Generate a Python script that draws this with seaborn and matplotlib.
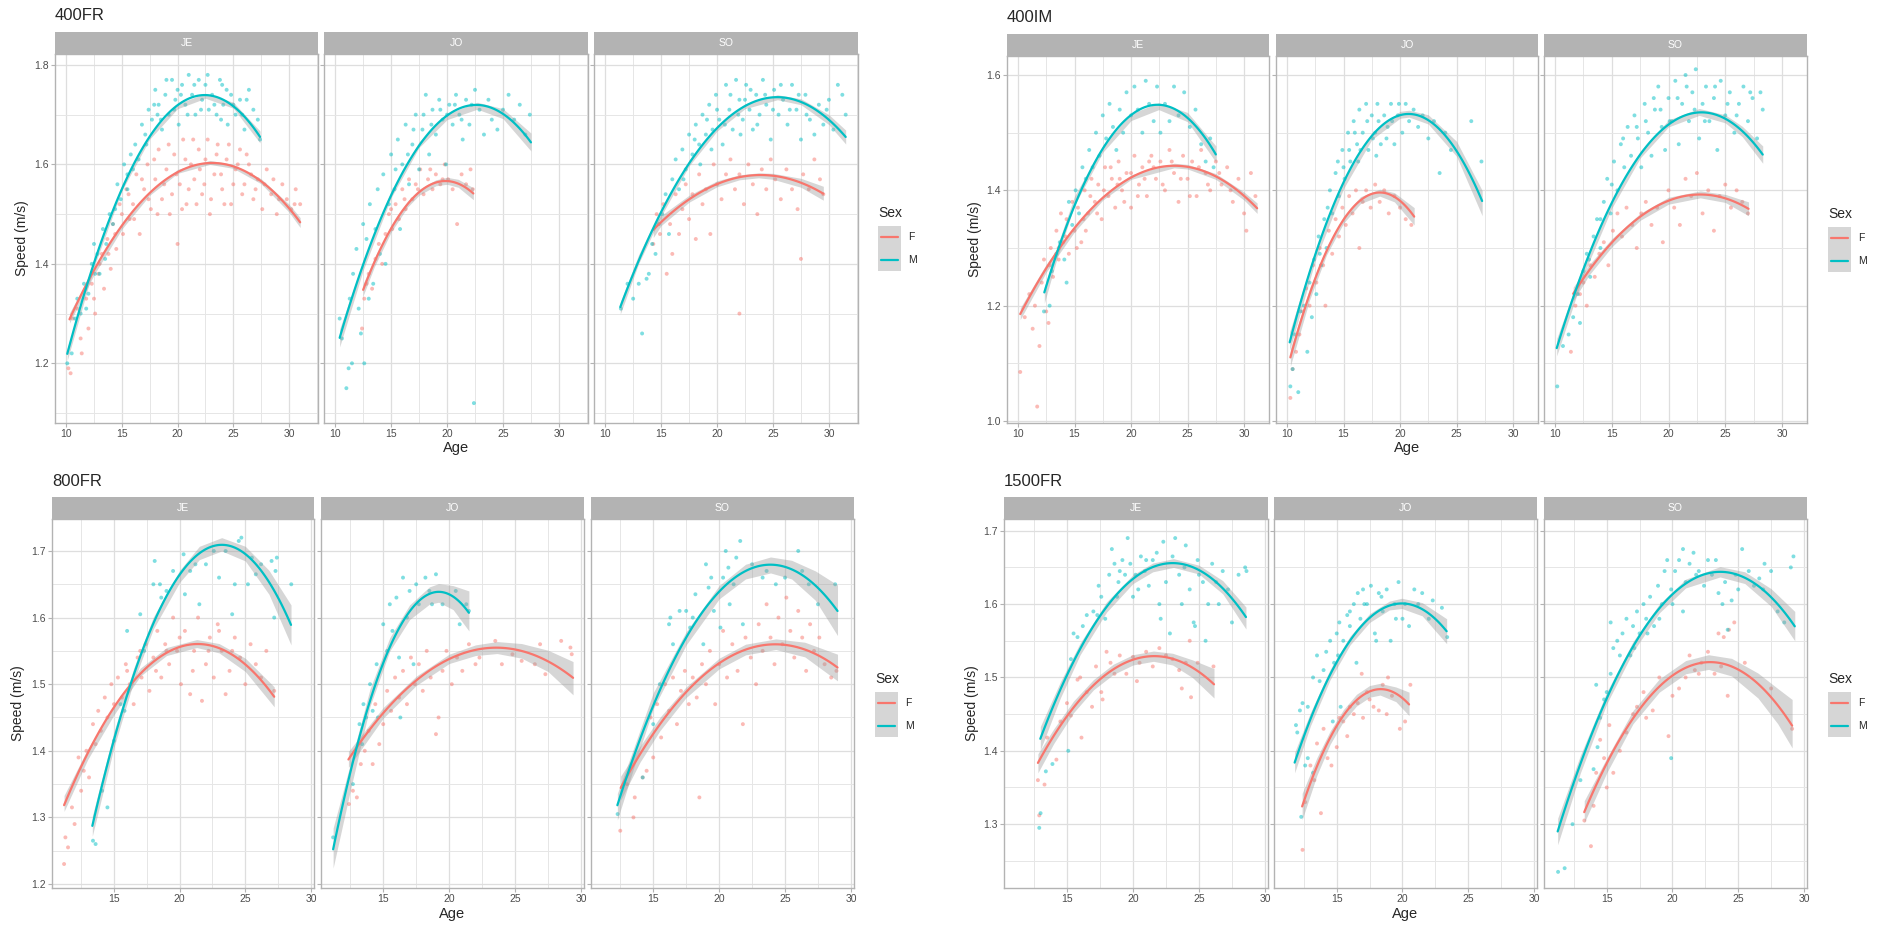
import pandas as pd
import matplotlib
matplotlib.use("Agg")
import matplotlib.pyplot as plt
import seaborn as sns
from matplotlib.patches import Rectangle
from matplotlib.lines import Line2D
from matplotlib.ticker import FormatStrFormatter

sns.set_theme(style="white")
plt.rcParams["font.family"] = ["Liberation Sans", "DejaVu Sans"]

W, H = 1883, 925

EVENTS = ["400FR", "400IM", "800FR", "1500FR"]
FACETS = ["JE", "JO", "SO"]
SEXES = ["F", "M"]
PALETTE = {"F": "#F8766D", "M": "#00BFC4"}
PREFIX = {"400FR": "fr400", "400IM": "im400", "800FR": "fr800", "1500FR": "fr1500"}

# ---- swimmer results (Age, Speed m/s) ----
fr400_je_f = [(10.2,1.19),(10.4,1.18),(10.6,1.29),(11.0,1.31),(11.3,1.25),(11.4,1.22),(11.8,1.33),(12.0,1.27),
              (12.3,1.36),(12.6,1.30),(12.9,1.38),(13.2,1.42),(13.4,1.35),(13.7,1.45),(14.0,1.39),(14.2,1.48),
              (14.5,1.43),(14.8,1.52),(15.1,1.46),(15.4,1.55),(15.7,1.49),(16.0,1.52),(16.3,1.58),(16.6,1.46),
              (17.0,1.55),(17.3,1.60),(17.6,1.51),(18.0,1.57),(18.3,1.63),(18.6,1.53),(19.0,1.59),(19.3,1.50),
              (19.7,1.62),(20.0,1.44),(20.2,1.56),(20.5,1.65),(20.8,1.52),(21.2,1.60),(21.5,1.57),(21.9,1.63),
              (22.2,1.54),(22.5,1.61),(22.9,1.50),(23.3,1.58),(23.6,1.64),(24.0,1.55),(24.4,1.61),(24.8,1.52),
              (25.2,1.59),(25.6,1.63),(26.0,1.56),(26.4,1.60),(26.8,1.53),(27.2,1.57),(27.6,1.51),(28.0,1.59),
              (28.4,1.54),(28.9,1.50),(29.4,1.56),(29.8,1.53),(30.2,1.51),(30.6,1.55),(31.0,1.52),
              (15.6,1.54),(16.1,1.49),(16.8,1.57),(17.4,1.53),(17.9,1.61),(18.2,1.50),(18.8,1.56),(19.2,1.64),
              (19.5,1.54),(19.9,1.58),(20.4,1.51),(20.7,1.61),(21.0,1.55),(21.4,1.65),(21.7,1.52),(22.0,1.59),
              (22.4,1.56),(22.7,1.65),(23.0,1.53),(23.5,1.62),(23.9,1.58),(24.2,1.52),(24.6,1.64),(25.0,1.56),
              (25.4,1.60),(25.8,1.54),(26.2,1.62),(26.6,1.58),(27.0,1.55),(27.8,1.56),(28.6,1.57),(29.1,1.53),
              (30.5,1.52),(13.8,1.42),(14.4,1.46),(15.0,1.50),(12.5,1.33),(13.0,1.40)]
fr400_je_m = [(10.1,1.20),(10.5,1.22),(10.8,1.29),(11.0,1.33),(11.3,1.30),(11.6,1.36),(12.0,1.34),(12.3,1.40),
              (12.5,1.44),(12.8,1.42),(13.0,1.38),(13.3,1.47),(13.6,1.44),(13.9,1.50),(14.2,1.48),(14.6,1.56),
              (14.9,1.53),(15.2,1.60),(15.5,1.58),(15.8,1.62),(16.2,1.64),(16.5,1.61),(16.8,1.68),(17.1,1.66),
              (17.4,1.71),(17.7,1.69),(18.0,1.75),(18.3,1.72),(18.6,1.67),(18.9,1.74),(19.2,1.70),(19.5,1.77),
              (19.8,1.73),(20.1,1.68),(20.4,1.76),(20.7,1.72),(21.0,1.78),(21.3,1.74),(21.6,1.70),(21.9,1.77),
              (22.2,1.73),(22.5,1.76),(22.8,1.71),(23.1,1.74),(23.5,1.70),(23.8,1.77),(24.1,1.72),(24.5,1.68),
              (24.8,1.74),(25.2,1.70),(25.6,1.73),(26.0,1.67),(26.4,1.75),(26.8,1.71),(27.2,1.69),(27.4,1.65),
              (17.2,1.64),(17.9,1.72),(18.5,1.69),(19.0,1.77),(19.7,1.71),(20.3,1.74),(20.9,1.70),(21.5,1.76),
              (22.1,1.71),(22.7,1.78),(23.3,1.72),(23.9,1.69),(24.4,1.75),(25.0,1.72),(25.8,1.70),(26.2,1.73),
              (16.0,1.59),(15.5,1.55),(14.4,1.51),(13.5,1.41),(12.6,1.38),(11.8,1.31),(18.2,1.70),(20.0,1.75),
              (24.0,1.76)]
fr400_jo_f = [(12.4,1.27),(12.6,1.33),(12.8,1.36),(13.0,1.38),(13.3,1.35),(13.6,1.41),(13.9,1.44),(14.2,1.40),
              (14.5,1.46),(14.8,1.50),(15.1,1.47),(15.4,1.52),(15.7,1.49),(16.0,1.55),(16.3,1.51),(16.6,1.57),
              (16.9,1.53),(17.2,1.56),(17.6,1.59),(17.9,1.54),(18.3,1.57),(18.7,1.55),(19.0,1.58),(19.4,1.56),
              (19.8,1.60),(20.1,1.57),(20.5,1.55),(20.9,1.48),(21.3,1.58),(21.7,1.56),(22.1,1.59),(22.3,1.55),
              (15.0,1.51),(16.2,1.53),(17.4,1.55),(18.5,1.59),(19.6,1.57)]
fr400_jo_m = [(10.4,1.29),(10.6,1.25),(11.0,1.15),(11.2,1.19),(11.3,1.33),(11.5,1.20),(11.6,1.38),(11.9,1.43),
              (12.1,1.31),(12.3,1.26),(12.5,1.48),(12.6,1.20),(12.8,1.45),(13.0,1.33),(13.1,1.52),(13.4,1.36),
              (13.6,1.47),(13.8,1.55),(14.0,1.42),(14.3,1.58),(14.5,1.40),(14.8,1.52),(15.0,1.62),(15.3,1.55),
              (15.6,1.65),(15.8,1.47),(16.0,1.60),(16.3,1.68),(16.6,1.56),(16.9,1.64),(17.2,1.70),(17.5,1.59),
              (17.8,1.67),(18.1,1.74),(18.4,1.62),(18.7,1.71),(19.0,1.66),(19.3,1.73),(19.6,1.69),(19.9,1.60),
              (20.2,1.72),(20.5,1.68),(20.8,1.74),(21.1,1.70),(21.4,1.65),(21.7,1.73),(22.0,1.68),(22.4,1.12),
              (22.5,1.75),(22.9,1.71),(23.3,1.66),(23.7,1.73),(24.0,1.69),(24.5,1.67),(25.0,1.71),(25.5,1.74),
              (26.0,1.69),(26.5,1.72),(27.0,1.66),(27.4,1.70),
              (17.0,1.67),(17.9,1.70),(18.6,1.68),(19.4,1.71),(20.0,1.70),(20.7,1.72),(21.3,1.69),(22.2,1.72),
              (16.5,1.62),(15.4,1.59)]
fr400_so_f = [(14.3,1.44),(14.6,1.50),(14.9,1.46),(15.2,1.52),(15.5,1.38),(15.8,1.48),(16.0,1.42),(16.3,1.54),
              (16.6,1.46),(16.9,1.51),(17.2,1.56),(17.5,1.49),(17.8,1.54),(18.1,1.45),(18.4,1.58),(18.7,1.52),
              (19.0,1.55),(19.4,1.46),(19.7,1.60),(20.0,1.56),(20.4,1.53),(20.8,1.58),(21.2,1.61),(21.6,1.55),
              (22.0,1.30),(22.0,1.58),(22.4,1.52),(22.8,1.60),(23.2,1.56),(23.6,1.50),(24.0,1.59),(24.4,1.55),
              (24.8,1.61),(25.2,1.57),(25.7,1.53),(26.2,1.59),(26.7,1.55),(27.2,1.51),(27.5,1.41),(27.7,1.58),
              (28.2,1.55),(28.7,1.61),(29.2,1.57),(29.5,1.54)]
fr400_so_m = [(11.4,1.31),(12.0,1.36),(12.5,1.33),(13.0,1.36),(13.3,1.26),(13.7,1.37),(13.9,1.38),(14.2,1.44),
              (14.5,1.42),(14.8,1.48),(15.1,1.50),(15.4,1.54),(15.7,1.46),(16.0,1.57),(16.3,1.61),(16.6,1.55),
              (16.9,1.63),(17.2,1.59),(17.5,1.66),(17.8,1.62),(18.1,1.68),(18.4,1.64),(18.7,1.70),(19.0,1.66),
              (19.3,1.72),(19.6,1.67),(19.9,1.74),(20.2,1.69),(20.5,1.64),(20.8,1.76),(21.1,1.71),(21.4,1.67),
              (21.7,1.77),(22.0,1.73),(22.3,1.69),(22.6,1.76),(22.9,1.71),(23.2,1.67),(23.5,1.74),(23.8,1.70),
              (24.1,1.77),(24.4,1.72),(24.8,1.65),(25.1,1.75),(25.5,1.70),(25.9,1.73),(26.3,1.68),(26.7,1.76),
              (27.1,1.71),(27.5,1.65),(27.9,1.74),(28.3,1.69),(28.7,1.66),(29.1,1.72),(29.5,1.68),(30.0,1.73),
              (30.4,1.67),(30.8,1.76),(31.2,1.74),(31.5,1.70),
              (17.0,1.57),(18.0,1.65),(19.1,1.69),(20.0,1.71),(20.7,1.68),(21.2,1.74),(21.9,1.70),(22.5,1.73),
              (23.0,1.75),(23.6,1.68),(24.3,1.74),(25.0,1.71),(25.7,1.76),(26.5,1.71),(27.3,1.74),(28.0,1.70),
              (29.8,1.71),(19.5,1.63),(18.5,1.60),(22.1,1.66)]

im400_je_f = [(10.2,1.085),(10.6,1.18),(11.0,1.22),(11.3,1.16),(11.5,1.20),(11.7,1.025),(11.9,1.13),(12.1,1.24),
              (12.3,1.28),(12.5,1.19),(12.7,1.17),(12.9,1.30),(13.1,1.25),(13.4,1.33),(13.6,1.28),(13.8,1.36),
              (14.0,1.31),(14.3,1.35),(14.5,1.29),(14.8,1.38),(15.0,1.33),(15.3,1.37),(15.6,1.31),(15.9,1.40),
              (16.2,1.36),(16.5,1.42),(16.8,1.38),(17.1,1.41),(17.4,1.35),(17.7,1.44),(18.0,1.39),(18.3,1.42),
              (18.6,1.37),(18.9,1.45),(19.2,1.40),(19.6,1.43),(20.0,1.37),(20.3,1.46),(20.7,1.41),(21.0,1.44),
              (21.4,1.39),(21.8,1.46),(22.2,1.42),(22.6,1.45),(23.0,1.40),(23.4,1.47),(23.8,1.43),(24.2,1.38),
              (24.6,1.46),(25.0,1.42),(25.4,1.45),(25.8,1.39),(26.2,1.47),(26.6,1.43),(27.0,1.40),(27.5,1.45),
              (28.0,1.41),(28.5,1.44),(29.0,1.38),(29.5,1.42),(30.0,1.36),(30.2,1.33),(30.6,1.43),(31.0,1.39),
              (15.2,1.30),(15.8,1.35),(16.4,1.39),(17.0,1.36),(17.6,1.40),(18.2,1.44),(18.8,1.41),(19.4,1.38),
              (20.0,1.43),(20.6,1.39),(21.2,1.42),(22.0,1.44),(22.8,1.41),(23.6,1.45),(24.4,1.42),(25.2,1.39),
              (26.0,1.44),(26.8,1.41),(27.8,1.43),(28.8,1.40),(14.2,1.32),(13.6,1.30),(12.8,1.27),(16.0,1.33),
              (19.0,1.42),(21.6,1.45)]
im400_je_m = [(12.3,1.19),(12.8,1.20),(13.0,1.26),(13.4,1.29),(13.7,1.31),(14.1,1.28),(14.3,1.24),(14.5,1.38),
              (14.8,1.34),(15.1,1.40),(15.4,1.36),(15.7,1.44),(16.0,1.42),(16.3,1.47),(16.6,1.44),(16.9,1.50),
              (17.2,1.46),(17.5,1.53),(17.8,1.49),(18.1,1.55),(18.4,1.51),(18.7,1.47),(19.0,1.54),(19.3,1.50),
              (19.6,1.57),(20.0,1.53),(20.3,1.58),(20.6,1.54),(21.0,1.50),(21.3,1.59),(21.6,1.55),(22.0,1.52),
              (22.3,1.58),(22.6,1.50),(23.0,1.55),(23.4,1.52),(23.8,1.58),(24.2,1.53),(24.7,1.57),(25.2,1.51),
              (25.7,1.54),(26.2,1.48),(26.6,1.45),(27.0,1.49),(27.3,1.44)]
im400_jo_f = [(10.3,1.04),(10.5,1.09),(10.8,1.12),(11.1,1.15),(11.4,1.19),(11.7,1.23),(12.0,1.20),(12.3,1.27),
              (12.6,1.24),(12.9,1.30),(13.2,1.27),(13.4,1.20),(13.7,1.33),(14.0,1.29),(14.3,1.35),(14.6,1.32),
              (14.9,1.37),(15.2,1.34),(15.5,1.39),(15.8,1.36),(16.1,1.40),(16.4,1.30),(16.7,1.38),(17.0,1.40),
              (17.4,1.37),(17.8,1.41),(18.2,1.38),(18.6,1.40),(19.0,1.36),(19.5,1.39),(20.0,1.37),(20.5,1.35),
              (21.0,1.34)]
im400_jo_m = [(10.3,1.06),(10.5,1.09),(10.7,1.15),(11.0,1.05),(11.2,1.19),(11.5,1.20),(11.8,1.12),(12.0,1.24),
              (12.2,1.18),(12.4,1.28),(12.6,1.22),(12.8,1.32),(13.0,1.27),(13.3,1.35),(13.5,1.30),(13.8,1.40),
              (14.0,1.36),(14.3,1.43),(14.6,1.39),(14.9,1.47),(15.1,1.42),(15.4,1.50),(15.6,1.45),(15.9,1.52),
              (16.2,1.48),(16.4,1.54),(16.7,1.50),(17.0,1.55),(17.2,1.47),(17.5,1.53),(17.8,1.50),(18.0,1.55),
              (18.3,1.48),(18.6,1.53),(18.9,1.51),(19.2,1.55),(19.5,1.48),(19.8,1.53),(20.2,1.50),(20.5,1.55),
              (20.8,1.52),(21.2,1.54),(21.6,1.51),(22.0,1.53),(22.5,1.49),(23.0,1.52),(23.5,1.43),(24.0,1.50),
              (24.5,1.47),(26.3,1.52),(27.2,1.45),
              (14.5,1.45),(15.0,1.44),(15.5,1.47),(16.0,1.50),(16.5,1.47),(17.1,1.52),(17.6,1.49),(18.1,1.52),
              (18.8,1.49),(19.3,1.52),(19.9,1.55),(13.6,1.37),(12.9,1.29),(16.3,1.45),(17.9,1.46)]
im400_so_f = [(11.4,1.12),(11.8,1.20),(12.2,1.22),(12.5,1.24),(12.8,1.20),(13.1,1.27),(13.5,1.25),(13.9,1.29),
              (14.3,1.31),(14.7,1.27),(15.1,1.33),(15.5,1.36),(15.9,1.32),(16.3,1.37),(16.8,1.34),(17.2,1.30),
              (17.6,1.36),(18.0,1.38),(18.5,1.34),(19.0,1.37),(19.5,1.31),(20.0,1.40),(20.5,1.37),(21.0,1.34),
              (21.5,1.42),(22.0,1.39),(22.5,1.43),(23.0,1.36),(23.5,1.40),(24.0,1.33),(24.5,1.39),(25.0,1.41),
              (25.5,1.37),(26.0,1.40),(26.5,1.38),(27.0,1.36)]
im400_so_m = [(10.2,1.06),(10.7,1.13),(11.2,1.15),(11.6,1.18),(12.0,1.22),(12.2,1.17),(12.5,1.26),(12.8,1.29),
              (13.1,1.25),(13.4,1.32),(13.7,1.35),(14.0,1.30),(14.3,1.38),(14.6,1.42),(14.9,1.36),(15.2,1.45),
              (15.5,1.40),(15.8,1.48),(16.1,1.44),(16.4,1.51),(16.7,1.46),(17.0,1.53),(17.3,1.49),(17.6,1.44),
              (17.9,1.55),(18.2,1.50),(18.5,1.46),(18.8,1.54),(19.1,1.58),(19.4,1.51),(19.7,1.47),(20.0,1.56),
              (20.3,1.52),(20.6,1.59),(20.9,1.48),(21.2,1.55),(21.5,1.60),(21.8,1.52),(22.1,1.57),(22.4,1.61),
              (22.7,1.49),(23.0,1.55),(23.3,1.58),(23.6,1.52),(24.0,1.56),(24.3,1.47),(24.6,1.59),(25.0,1.53),
              (25.4,1.57),(25.8,1.50),(26.2,1.55),(26.6,1.58),(27.0,1.52),(27.4,1.56),(27.8,1.49),(28.1,1.57),
              (28.3,1.54),
              (16.0,1.49),(17.2,1.51),(18.0,1.52),(18.7,1.56),(19.3,1.54),(20.1,1.52),(20.8,1.56),(21.6,1.58),
              (22.3,1.54),(23.2,1.52),(24.1,1.58),(25.2,1.55),(26.0,1.53),(27.2,1.57),(15.0,1.41),(14.0,1.35),
              (13.0,1.28)]

fr800_je_f = [(11.2,1.23),(11.3,1.27),(11.5,1.255),(11.8,1.315),(12.0,1.29),(12.3,1.39),(12.5,1.34),(12.7,1.37),
              (12.9,1.40),(13.1,1.36),(13.4,1.44),(13.6,1.41),(13.8,1.46),(14.0,1.43),(14.3,1.48),(14.5,1.45),
              (14.8,1.50),(15.0,1.47),(15.3,1.51),(15.6,1.48),(15.9,1.53),(16.2,1.50),(16.5,1.47),(16.8,1.54),
              (17.1,1.51),(17.4,1.56),(17.7,1.49),(18.0,1.54),(18.3,1.58),(18.6,1.51),(18.9,1.56),(19.2,1.53),
              (19.5,1.60),(19.8,1.55),(20.1,1.50),(20.4,1.58),(20.8,1.485),(21.1,1.55),(21.4,1.60),(21.7,1.475),
              (22.0,1.53),(22.3,1.57),(22.6,1.51),(22.9,1.59),(23.2,1.55),(23.5,1.485),(23.8,1.52),(24.2,1.57),
              (24.6,1.54),(25.0,1.50),(25.4,1.56),(25.8,1.53),(26.2,1.51),(26.6,1.55),(27.2,1.49),
              (16.0,1.52),(17.0,1.55),(18.2,1.52),(19.0,1.55),(20.0,1.57),(21.0,1.52),(22.2,1.55),(23.0,1.58),
              (24.0,1.55)]
fr800_je_m = [(13.4,1.265),(13.6,1.26),(14.1,1.34),(14.5,1.315),(15.0,1.415),(15.5,1.47),(15.8,1.46),(16.0,1.58),
              (17.0,1.605),(17.3,1.55),(18.0,1.65),(18.1,1.685),(18.5,1.65),(18.6,1.63),(19.0,1.64),(19.5,1.67),
              (20.3,1.695),(20.4,1.635),(20.8,1.67),(21.2,1.68),(21.5,1.62),(22.0,1.68),(22.6,1.70),(23.0,1.66),
              (23.5,1.70),(24.0,1.605),(24.2,1.65),(24.5,1.715),(24.7,1.72),(25.2,1.65),(25.5,1.69),(25.8,1.665),
              (26.2,1.68),(27.0,1.685),(27.2,1.60),(27.3,1.67),(27.4,1.69),(28.5,1.65)]
fr800_jo_f = [(12.4,1.32),(12.7,1.34),(13.0,1.33),(13.3,1.38),(13.6,1.40),(13.9,1.43),(14.2,1.38),(14.4,1.47),
              (14.7,1.41),(15.0,1.44),(15.3,1.49),(15.6,1.46),(15.9,1.51),(16.2,1.48),(16.5,1.52),(16.8,1.47),
              (17.1,1.54),(17.4,1.50),(17.7,1.53),(18.0,1.49),(18.3,1.55),(18.6,1.51),(19.0,1.425),(19.2,1.45),
              (19.5,1.52),(19.8,1.55),(20.2,1.50),(20.6,1.54),(21.0,1.52),(21.5,1.56),(22.0,1.53),(22.3,1.54),
              (23.5,1.565),(24.0,1.53),(24.8,1.545),(25.5,1.535),(26.5,1.53),(26.9,1.56),(27.3,1.515),(28.5,1.565),
              (29.2,1.555),(29.3,1.545)]
fr800_jo_m = [(11.2,1.27),(12.7,1.35),(13.2,1.44),(13.4,1.41),(13.5,1.47),(13.7,1.45),(14.0,1.50),(14.2,1.46),
              (14.5,1.53),(14.6,1.45),(15.0,1.59),(15.3,1.55),(15.5,1.62),(15.7,1.58),(16.0,1.63),(16.2,1.54),
              (16.3,1.45),(16.5,1.66),(16.8,1.60),(17.0,1.64),(17.3,1.53),(17.5,1.65),(17.7,1.62),(18.2,1.66),
              (18.5,1.64),(18.7,1.62),(19.0,1.665),(19.5,1.62),(20.5,1.64),(20.8,1.59),(21.3,1.62),(21.5,1.61)]
fr800_so_f = [(12.5,1.28),(13.0,1.35),(13.5,1.30),(13.6,1.33),(14.2,1.36),(14.5,1.37),(14.8,1.45),(15.0,1.39),
              (15.3,1.47),(15.6,1.42),(15.9,1.50),(16.2,1.46),(16.5,1.51),(16.8,1.44),(17.1,1.49),(17.4,1.52),
              (17.7,1.47),(18.0,1.51),(18.3,1.48),(18.5,1.33),(18.7,1.53),(19.0,1.50),(19.3,1.55),(19.7,1.47),
              (20.0,1.53),(20.3,1.58),(20.6,1.51),(21.0,1.56),(21.4,1.52),(21.8,1.44),(22.0,1.57),(22.4,1.54),
              (22.8,1.50),(23.0,1.59),(23.3,1.55),(23.6,1.62),(23.9,1.57),(24.2,1.53),(24.5,1.60),(24.8,1.56),
              (25.1,1.63),(25.4,1.58),(25.7,1.54),(26.0,1.61),(26.3,1.57),(26.6,1.52),(26.9,1.59),(27.2,1.55),
              (27.6,1.57),(28.0,1.53),(28.5,1.51),(28.9,1.52)]
fr800_so_m = [(12.3,1.305),(14.2,1.36),(15.0,1.44),(15.5,1.50),(16.2,1.59),(16.3,1.60),(16.5,1.56),(17.0,1.61),
              (17.5,1.61),(17.8,1.585),(18.0,1.60),(18.2,1.635),(18.8,1.56),(19.0,1.68),(19.2,1.645),(19.4,1.66),
              (19.6,1.61),(20.1,1.585),(20.3,1.66),(20.5,1.70),(20.7,1.675),(20.8,1.62),(21.1,1.65),(21.3,1.69),
              (21.6,1.715),(21.8,1.59),(22.5,1.68),(23.3,1.66),(23.6,1.67),(24.3,1.65),(25.0,1.66),(26.0,1.70),
              (26.3,1.67),(26.8,1.65),(27.5,1.62),(28.8,1.65)]

fr1500_je_f = [(12.8,1.36),(12.9,1.312),(13.3,1.354),(13.5,1.418),(14.2,1.388),(14.5,1.44),(15.0,1.465),(15.3,1.448),
               (15.8,1.497),(16.0,1.50),(16.1,1.418),(16.5,1.48),(16.9,1.46),(17.2,1.515),(17.6,1.48),(17.7,1.47),
               (18.0,1.535),(18.3,1.52),(18.6,1.505),(19.0,1.53),(19.5,1.505),(20.0,1.528),(20.3,1.495),(20.5,1.52),
               (21.0,1.535),(21.5,1.515),(22.0,1.54),(22.5,1.53),(23.0,1.525),(23.5,1.51),(23.7,1.485),(24.0,1.52),
               (24.3,1.55),(24.4,1.473),(24.9,1.52),(26.1,1.515)]
fr1500_je_m = [(12.9,1.295),(13.0,1.315),(13.4,1.372),(13.9,1.382),(15.1,1.40),(15.3,1.525),(15.5,1.56),(15.8,1.555),
               (16.2,1.57),(16.5,1.585),(17.0,1.59),(17.3,1.585),(17.4,1.625),(17.6,1.61),(17.9,1.58),(18.2,1.64),
               (18.4,1.675),(18.6,1.655),(18.8,1.61),(19.0,1.645),(19.2,1.66),(19.4,1.64),(19.6,1.69),(19.8,1.655),
               (20.2,1.64),(20.4,1.62),(20.6,1.665),(20.9,1.645),(21.2,1.625),(21.5,1.66),(21.8,1.67),(22.0,1.60),
               (22.1,1.58),(22.3,1.685),(22.5,1.63),(22.8,1.56),(23.0,1.665),(23.2,1.69),(23.5,1.64),(23.7,1.60),
               (24.0,1.68),(24.3,1.62),(24.6,1.575),(24.7,1.57),(24.9,1.66),(25.3,1.63),(25.5,1.55),(25.7,1.60),
               (26.0,1.655),(26.3,1.63),(26.8,1.645),(27.2,1.62),(27.5,1.575),(28.0,1.64),(28.5,1.65),(28.6,1.645),
               (18.9,1.63),(20.0,1.61),(21.0,1.66),(23.9,1.65),(25.0,1.64),(26.5,1.60)]
fr1500_jo_f = [(12.4,1.265),(12.6,1.33),(13.0,1.38),(13.3,1.36),(13.5,1.41),(13.8,1.315),(14.0,1.43),(14.3,1.39),
               (14.6,1.38),(15.0,1.405),(15.2,1.445),(15.5,1.44),(15.8,1.42),(16.0,1.46),(16.3,1.45),(16.6,1.465),
               (16.9,1.505),(17.0,1.445),(17.3,1.48),(17.5,1.47),(17.8,1.46),(18.2,1.455),(18.5,1.49),(18.8,1.45),
               (18.9,1.50),(19.2,1.475),(19.8,1.43),(20.2,1.44),(20.6,1.49)]
fr1500_jo_m = [(11.9,1.435),(12.0,1.425),(12.2,1.455),(12.3,1.31),(12.4,1.465),(12.6,1.38),(12.8,1.46),(12.8,1.39),
               (13.2,1.50),(13.2,1.37),(13.5,1.53),(13.7,1.495),(14.0,1.51),(14.2,1.535),(14.5,1.55),(14.7,1.44),
               (14.8,1.52),(15.0,1.56),(15.2,1.575),(15.3,1.46),(15.5,1.55),(15.8,1.585),(16.0,1.57),(16.3,1.60),
               (16.5,1.52),(16.6,1.615),(16.8,1.58),(17.0,1.62),(17.3,1.60),(17.6,1.625),(17.9,1.56),(18.0,1.55),
               (18.2,1.615),(18.5,1.59),(18.8,1.62),(19.1,1.55),(19.4,1.60),(19.7,1.63),(20.0,1.58),(20.2,1.60),
               (20.5,1.57),(20.9,1.62),(21.2,1.60),(21.5,1.615),(22.0,1.58),(22.3,1.605),(23.0,1.595),(23.4,1.555),
               (16.0,1.59),(17.1,1.60),(18.4,1.61),(19.5,1.58),(15.1,1.53)]
fr1500_so_f = [(13.3,1.305),(13.8,1.27),(14.0,1.325),(14.2,1.37),(14.5,1.415),(14.8,1.39),(15.0,1.35),(15.2,1.435),
               (15.5,1.37),(16.0,1.40),(16.5,1.425),(17.0,1.45),(17.3,1.46),(17.8,1.48),(18.0,1.445),(18.5,1.455),
               (19.0,1.50),(19.7,1.42),(20.0,1.475),(20.5,1.485),(21.0,1.50),(21.3,1.53),(21.7,1.51),(22.0,1.505),
               (22.2,1.52),(22.7,1.535),(23.2,1.505),(23.5,1.56),(23.7,1.515),(23.9,1.555),(24.2,1.475),(24.3,1.565),
               (24.7,1.575),(25.5,1.52),(27.5,1.485),(29.1,1.43)]
fr1500_so_m = [(11.3,1.235),(11.8,1.24),(12.4,1.30),(13.0,1.36),(14.0,1.375),(14.2,1.49),(14.3,1.405),(14.5,1.445),
               (14.8,1.47),(15.0,1.48),(15.3,1.505),(15.3,1.575),(15.5,1.54),(15.8,1.55),(16.0,1.53),(16.2,1.56),
               (16.5,1.58),(16.8,1.53),(17.0,1.57),(17.3,1.59),(17.5,1.56),(17.8,1.60),(18.0,1.58),(18.3,1.61),
               (18.6,1.57),(18.9,1.625),(19.2,1.60),(19.4,1.645),(19.6,1.66),(19.9,1.62),(19.9,1.39),(20.2,1.645),
               (20.5,1.66),(20.8,1.675),(20.8,1.59),(21.0,1.63),(21.3,1.655),(21.6,1.67),(22.0,1.645),(22.4,1.625),
               (22.7,1.66),(23.0,1.64),(23.5,1.615),(23.8,1.60),(24.0,1.63),(24.2,1.565),(24.5,1.605),(25.0,1.62),
               (25.3,1.675),(25.8,1.645),(26.2,1.625),(26.6,1.635),(27.0,1.655),(27.5,1.645),(28.0,1.59),(28.5,1.575),
               (29.0,1.65),(29.2,1.665),
               (17.1,1.54),(18.1,1.56),(19.0,1.58),(20.0,1.60),(21.8,1.64),(23.3,1.66),(24.8,1.64),(26.9,1.62)]

# ---- quadratic trend lines (Age, Speed, half width of grey band) ----
fr400_je_f_fit = [(10.3,1.291,0.010),(12.5,1.385,0.007),(15,1.475,0.005),(17.5,1.542,0.004),(20,1.586,0.004),
                  (22.9,1.604,0.004),(25,1.596,0.004),(27.5,1.566,0.005),(30,1.512,0.008),(31.0,1.483,0.010)]
fr400_je_m_fit = [(10.1,1.218,0.012),(12.5,1.402,0.008),(15,1.553,0.006),(17.5,1.656,0.005),(20,1.717,0.005),
                  (22.5,1.738,0.005),(25,1.719,0.006),(27.4,1.655,0.012)]
fr400_jo_f_fit = [(12.5,1.348,0.012),(13.5,1.403,0.009),(15,1.471,0.007),(16.5,1.521,0.006),(17.5,1.544,0.006),
                  (19,1.563,0.006),(20,1.567,0.007),(21,1.562,0.008),(22.35,1.541,0.012)]
fr400_jo_m_fit = [(10.4,1.251,0.018),(12.5,1.397,0.010),(15,1.540,0.007),(17.5,1.640,0.006),(20,1.696,0.006),
                  (22.7,1.718,0.007),(25,1.702,0.010),(27.5,1.645,0.018)]
fr400_so_f_fit = [(14.3,1.465,0.012),(15,1.487,0.010),(17.5,1.531,0.007),(20,1.561,0.006),(22,1.574,0.005),
                  (23.7,1.578,0.005),(25,1.576,0.006),(27.5,1.563,0.009),(29.5,1.542,0.014)]
fr400_so_m_fit = [(11.35,1.311,0.012),(13,1.410,0.009),(15,1.503,0.007),(17.5,1.603,0.006),(20,1.672,0.005),
                  (22.5,1.717,0.005),(25.4,1.735,0.005),(27.5,1.726,0.006),(30,1.690,0.010),(31.5,1.655,0.014)]

im400_je_f_fit = [(10.2,1.186,0.010),(12.5,1.265,0.007),(15,1.333,0.005),(17.5,1.387,0.004),(20,1.423,0.004),
                  (23.8,1.443,0.004),(25,1.441,0.004),(27.5,1.424,0.005),(30,1.390,0.007),(31.15,1.369,0.009)]
im400_je_m_fit = [(12.33,1.218,0.014),(13.5,1.295,0.010),(15,1.382,0.008),(17.5,1.472,0.006),(20,1.527,0.006),
                  (22.45,1.546,0.006),(25,1.527,0.008),(27.5,1.463,0.014)]
im400_jo_f_fit = [(10.3,1.110,0.015),(12,1.220,0.010),(13.5,1.295,0.007),(15,1.349,0.006),(16.5,1.383,0.006),
                  (18.2,1.396,0.006),(19.5,1.388,0.008),(21.25,1.355,0.015)]
im400_jo_m_fit = [(10.24,1.139,0.016),(12.5,1.287,0.009),(15,1.410,0.007),(17.5,1.494,0.006),(20,1.531,0.006),
                  (20.8,1.533,0.006),(22.5,1.523,0.008),(25,1.472,0.013),(27.26,1.378,0.022)]
im400_so_f_fit = [(11.6,1.220,0.012),(13,1.262,0.009),(15,1.309,0.007),(17.5,1.354,0.006),(20,1.382,0.006),
                  (22.8,1.393,0.006),(25,1.386,0.007),(27.05,1.368,0.012)]
im400_so_m_fit = [(10.15,1.128,0.015),(12.5,1.262,0.009),(15,1.376,0.007),(17.5,1.462,0.006),(20,1.516,0.006),
                  (22.7,1.536,0.006),(25,1.524,0.007),(26.5,1.502,0.009),(28.3,1.462,0.015)]

fr800_je_f_fit = [(11.2,1.321,0.012),(13,1.395,0.008),(15,1.460,0.006),(17,1.518,0.006),(19,1.549,0.006),
                  (21.3,1.561,0.006),(23,1.554,0.007),(25,1.529,0.010),(27.2,1.481,0.015)]
fr800_je_m_fit = [(13.35,1.287,0.015),(15,1.417,0.012),(16.5,1.514,0.010),(18,1.592,0.009),(20,1.662,0.009),
                  (21.5,1.697,0.010),(23.2,1.710,0.010),(25,1.696,0.011),(26.8,1.653,0.018),(28.48,1.589,0.030)]
fr800_jo_f_fit = [(12.36,1.387,0.012),(15,1.457,0.008),(17.5,1.505,0.007),(20,1.538,0.007),(22,1.551,0.008),
                  (23.64,1.555,0.009),(25.5,1.550,0.011),(27.5,1.535,0.016),(29.4,1.509,0.025)]
fr800_jo_m_fit = [(11.2,1.254,0.030),(12.5,1.360,0.020),(14,1.480,0.013),(15.5,1.560,0.010),(17,1.608,0.011),
                  (18.5,1.633,0.013),(19.2,1.637,0.014),(20.3,1.630,0.018),(21.5,1.610,0.030)]
fr800_so_f_fit = [(12.53,1.344,0.018),(14,1.395,0.012),(15.5,1.440,0.010),(17.5,1.488,0.008),(20,1.531,0.008),
                  (22,1.552,0.008),(24.3,1.560,0.008),(26.5,1.552,0.011),(28.98,1.525,0.020)]
fr800_so_m_fit = [(12.28,1.316,0.020),(13.5,1.388,0.015),(15,1.475,0.012),(17.5,1.569,0.010),(20,1.638,0.010),
                  (22,1.669,0.011),(23.9,1.679,0.012),(25.5,1.672,0.014),(27.3,1.648,0.022),(28.98,1.611,0.038)]

fr1500_je_f_fit = [(12.8,1.383,0.013),(14,1.420,0.010),(15.5,1.460,0.008),(17,1.490,0.007),(18.5,1.511,0.007),
                   (20,1.524,0.007),(21.55,1.529,0.007),(23,1.525,0.008),(24.5,1.512,0.012),(26.14,1.492,0.020)]
fr1500_je_m_fit = [(12.98,1.417,0.016),(14.5,1.483,0.011),(16,1.539,0.008),(18,1.596,0.007),(20,1.634,0.006),
                   (21.5,1.650,0.006),(23.07,1.656,0.006),(25,1.647,0.006),(26.8,1.623,0.009),(28.56,1.581,0.015)]
fr1500_jo_f_fit = [(12.37,1.324,0.018),(13.5,1.379,0.012),(14.5,1.418,0.009),(15.5,1.448,0.008),(16.5,1.469,0.008),
                   (17.5,1.481,0.008),(18.3,1.484,0.008),(19.5,1.477,0.010),(20.5,1.464,0.016)]
fr1500_jo_m_fit = [(11.8,1.384,0.014),(13,1.443,0.009),(14.5,1.504,0.007),(16,1.550,0.006),(17.5,1.581,0.006),
                   (19,1.598,0.006),(19.95,1.601,0.007),(21.5,1.593,0.009),(23.36,1.563,0.017)]
fr1500_so_f_fit = [(13.29,1.317,0.015),(15,1.380,0.010),(17,1.446,0.009),(19,1.489,0.009),(21,1.514,0.009),
                   (22.74,1.521,0.010),(24.5,1.514,0.012),(26.5,1.489,0.017),(28,1.461,0.024),(29.1,1.437,0.033)]
fr1500_so_m_fit = [(11.27,1.290,0.018),(13,1.382,0.012),(15,1.472,0.008),(17,1.542,0.007),(19,1.594,0.006),
                   (21,1.628,0.006),(23.62,1.644,0.007),(25.5,1.636,0.008),(27.5,1.609,0.012),(29.3,1.570,0.020)]

# ---- build long tables ----
pt_rows, fit_rows = [], []
for ev in EVENTS:
    for fa in FACETS:
        for sx in SEXES:
            name = f"{PREFIX[ev]}_{fa.lower()}_{sx.lower()}"
            for a, s in globals()[name]:
                pt_rows.append((ev, fa, sx, a, s))
            for a, s, b in globals()[name + "_fit"]:
                fit_rows.append((ev, fa, sx, a, s, b))
points = pd.DataFrame(pt_rows, columns=["Event", "Facet", "Sex", "Age", "Speed"])
fits = pd.DataFrame(fit_rows, columns=["Event", "Facet", "Sex", "Age", "Speed", "Band"])

# ---- page layout in pixels ----
LAYOUT = {
    "400FR": dict(cols=[(55, 318), (324, 588), (594, 858)], strip=(32, 54), bottom=423,
                  xlim=(9.0, 32.6), ylim=(1.08, 1.822),
                  yticks=[1.2, 1.4, 1.6, 1.8], yminor=[1.1, 1.3, 1.5, 1.7],
                  xticks=[10, 15, 20, 25, 30], xminor=[12.5, 17.5, 22.5, 27.5, 32.5],
                  title_y=16, ylab_x=22, xlab_y=448, key=(878, 226)),
    "400IM": dict(cols=[(1007, 1269), (1276, 1538), (1544, 1807)], strip=(34, 56), bottom=423,
                  xlim=(9.03, 32.2), ylim=(0.9965, 1.633),
                  yticks=[1.0, 1.2, 1.4, 1.6], yminor=[1.1, 1.3, 1.5],
                  xticks=[10, 15, 20, 25, 30], xminor=[12.5, 17.5, 22.5, 27.5],
                  title_y=17, ylab_x=975, xlab_y=448, key=(1828, 227)),
    "800FR": dict(cols=[(52, 314), (321, 584), (591, 854)], strip=(497, 519), bottom=888,
                  xlim=(10.28, 30.23), ylim=(1.194, 1.748),
                  yticks=[1.2, 1.3, 1.4, 1.5, 1.6, 1.7], yminor=[1.25, 1.35, 1.45, 1.55, 1.65],
                  xticks=[15, 20, 25, 30], xminor=[12.5, 17.5, 22.5, 27.5],
                  title_y=481, ylab_x=18, xlab_y=914, key=(875, 692)),
    "1500FR": dict(cols=[(1004, 1268), (1274, 1537), (1544, 1807)], strip=(497, 519), bottom=888,
                   xlim=(10.23, 30.23), ylim=(1.213, 1.716),
                   yticks=[1.3, 1.4, 1.5, 1.6, 1.7], yminor=[1.25, 1.35, 1.45, 1.55, 1.65],
                   xticks=[15, 20, 25, 30], xminor=[12.5, 17.5, 22.5, 27.5],
                   title_y=481, ylab_x=972, xlab_y=914, key=(1828, 692)),
}


def frac(x0, y0, x1, y1):
    return [x0 / W, 1 - y1 / H, (x1 - x0) / W, (y1 - y0) / H]


fig = plt.figure(figsize=(W / 100, H / 100), dpi=100)
fig.patch.set_facecolor("white")

for ev in EVENTS:
    L = LAYOUT[ev]
    for i, fa in enumerate(FACETS):
        x0, x1 = L["cols"][i]
        ax = fig.add_axes(frac(x0, L["strip"][1], x1, L["bottom"]))
        pts = points[(points.Event == ev) & (points.Facet == fa)]
        sns.scatterplot(data=pts, x="Age", y="Speed", hue="Sex", hue_order=SEXES, palette=PALETTE,
                        s=8, alpha=0.5, linewidth=0, legend=False, ax=ax, zorder=2)
        fit = fits[(fits.Event == ev) & (fits.Facet == fa)]
        for sx in SEXES:
            f = fit[fit.Sex == sx]
            ax.fill_between(f.Age, f.Speed - f.Band, f.Speed + f.Band, color="#999999",
                            alpha=0.4, linewidth=0, zorder=3)
            # smooth quadratic through the trend points
            sns.regplot(data=f, x="Age", y="Speed", order=2, ci=None, scatter=False, truncate=True,
                        color=PALETTE[sx], line_kws=dict(linewidth=1.6, zorder=4), ax=ax)

        ax.set_xlim(*L["xlim"])
        ax.set_ylim(*L["ylim"])
        ax.set_xticks(L["xticks"])
        ax.set_xticks(L["xminor"], minor=True)
        ax.set_yticks(L["yticks"])
        ax.set_yticks(L["yminor"], minor=True)
        ax.yaxis.set_major_formatter(FormatStrFormatter("%.1f"))
        ax.grid(which="major", color="#DEDEDE", linewidth=0.9)
        ax.grid(which="minor", color="#E6E6E6", linewidth=0.7)
        ax.set_axisbelow(True)
        ax.tick_params(which="major", length=3, width=0.8, color="#B3B3B3", labelsize=7.5,
                       labelcolor="#4D4D4D", pad=1.5, bottom=True, left=True)
        ax.tick_params(which="minor", length=0)
        if i > 0:
            ax.tick_params(labelleft=False)
        for sp in ax.spines.values():
            sp.set_color("#B3B3B3")
            sp.set_linewidth(1)
        ax.set_xlabel("")
        ax.set_ylabel("")

        sax = fig.add_axes(frac(x0, L["strip"][0], x1, L["strip"][1]))
        sax.set_facecolor("#B3B3B3")
        sax.set_xticks([])
        sax.set_yticks([])
        for sp in sax.spines.values():
            sp.set_visible(False)
        sax.text(0.5, 0.5, fa, color="white", fontsize=7.5, ha="center", va="center",
                 transform=sax.transAxes)

    left = L["cols"][0][0]
    fig.text(left / W, 1 - L["title_y"] / H, ev, fontsize=12, ha="left", va="center")
    ymid = (L["strip"][1] + L["bottom"]) / 2
    fig.text(L["ylab_x"] / W, 1 - ymid / H, "Speed (m/s)", rotation=90, fontsize=10,
             ha="center", va="center")
    xmid = (L["cols"][1][0] + L["cols"][1][1]) / 2
    fig.text(xmid / W, 1 - L["xlab_y"] / H, "Age", fontsize=10.5, ha="center", va="center")

    # legend
    kx, ky = L["key"]
    fig.text(kx / W, 1 - (ky - 13) / H, "Sex", fontsize=10, ha="left", va="center")
    fig.add_artist(Rectangle((kx / W, 1 - (ky + 45) / H), 23 / W, 45 / H, transform=fig.transFigure,
                             facecolor="#D6D6D6", edgecolor="none"))
    for sx, dy in zip(SEXES, (11, 34)):
        yy = 1 - (ky + dy) / H
        fig.add_artist(Line2D([(kx + 3) / W, (kx + 20) / W], [yy, yy], transform=fig.transFigure,
                              color=PALETTE[sx], linewidth=1.6))
        fig.text((kx + 30) / W, yy, sx, fontsize=7.5, ha="left", va="center")

fig.savefig("out.png", dpi=100)
